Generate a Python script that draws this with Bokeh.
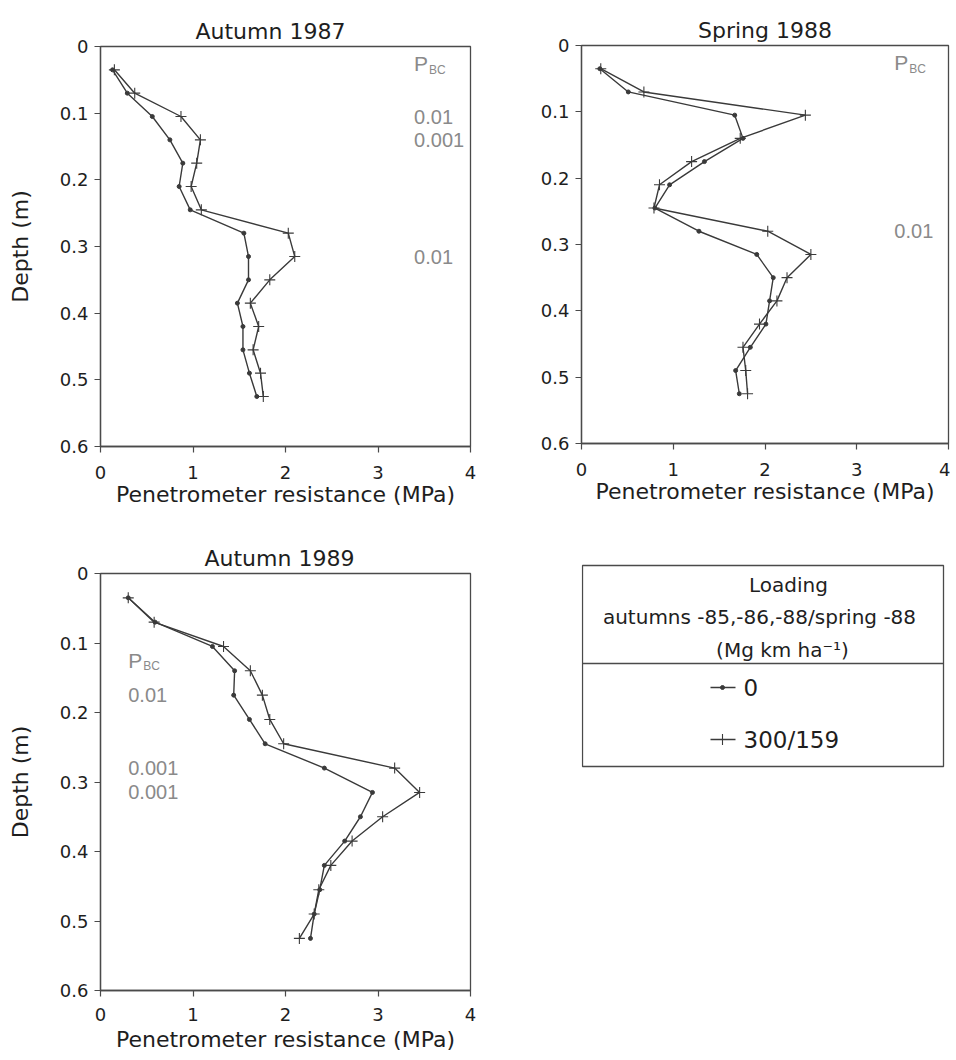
from bokeh.plotting import figure
from bokeh.layouts import column, row
from bokeh.models import Range1d, FixedTicker, ColumnDataSource
from bokeh.embed import file_html
from bokeh.resources import INLINE
from bokeh.core.properties import value

# ---------------- data ----------------
DEPTH = [0.035, 0.07, 0.105, 0.14, 0.175, 0.21, 0.245, 0.28, 0.315,
         0.35, 0.385, 0.42, 0.455, 0.49, 0.525]

A87_LOAD0 = [0.13, 0.29, 0.56, 0.75, 0.89, 0.85, 0.97, 1.55, 1.60, 1.60,
             1.48, 1.54, 1.54, 1.61, 1.69]
A87_LOAD300 = [0.15, 0.37, 0.87, 1.08, 1.04, 0.98, 1.09, 2.03, 2.10, 1.83,
               1.62, 1.71, 1.65, 1.73, 1.76]

S88_LOAD0 = [0.20, 0.51, 1.67, 1.76, 1.34, 0.96, 0.80, 1.28, 1.91, 2.09,
             2.05, 2.01, 1.84, 1.68, 1.72]
S88_LOAD300 = [0.21, 0.68, 2.44, 1.73, 1.20, 0.85, 0.79, 2.03, 2.50, 2.24,
               2.13, 1.94, 1.76, 1.79, 1.81]

A89_LOAD0 = [0.30, 0.59, 1.21, 1.45, 1.44, 1.61, 1.78, 2.42, 2.94, 2.81,
             2.64, 2.42, 2.37, 2.31, 2.27]
A89_LOAD300 = [0.30, 0.58, 1.33, 1.62, 1.75, 1.83, 1.98, 3.18, 3.45, 3.05,
               2.72, 2.49, 2.36, 2.31, 2.15]

TITLES = ["Autumn 1987", "Spring 1988", "Autumn 1989"]
X_TICKS = [0, 1, 2, 3, 4]
X_TICK_LABELS = ["0", "1", "2", "3", "4"]
Y_TICKS = [0, 0.1, 0.2, 0.3, 0.4, 0.5, 0.6]
Y_TICK_LABELS = ["0", "0.1", "0.2", "0.3", "0.4", "0.5", "0.6"]
X_LABEL = "Penetrometer resistance (MPa)"
Y_LABEL = "Depth (m)"

SERIES_LABELS = ["0", "300/159"]
LEGEND_HEAD = ["Loading", "autumns -85,-86,-88/spring -88", "(Mg km ha\u207b\u00b9)"]

# significance annotations (P_BC) per panel
PBC_X = [3.39, 3.41, 0.30]
PBC_DEPTH = [0.026, 0.026, 0.125]
A87_SIG_DEPTH = [0.105, 0.14, 0.315]
A87_SIG_P = ["0.01", "0.001", "0.01"]
S88_SIG_DEPTH = [0.28]
S88_SIG_P = ["0.01"]
A89_SIG_DEPTH = [0.175, 0.28, 0.315]
A89_SIG_P = ["0.01", "0.001", "0.001"]

# ---------------- style ----------------
LINE = "#3a3a3a"
FRAME = "#4a4a4a"
TXT = "#1e1e1e"
GREY = "#8a8a8a"
FONT = "DejaVu Sans"
AFONT = "Liberation Sans"


def panel(title, load0, load300, pbc_x, pbc_depth, sig_depth, sig_p,
          frame_w, frame_h, bl, br, bt, bb, ylabel=True, title_left=None,
          tick_standoff=13, xlabel_standoff=0):
    p = figure(output_backend="svg", toolbar_location=None,
               frame_width=frame_w, frame_height=frame_h,
               min_border_left=bl, min_border_right=br,
               min_border_top=bt, min_border_bottom=bb,
               x_range=Range1d(0, 4), y_range=Range1d(0.6, 0),
               title=title)
    if title_left is None:
        p.title.align = "center"
    else:
        p.title.align = "left"
        p.title.offset = title_left
    p.title.text_font = FONT
    p.title.text_font_size = "22px"
    p.title.text_font_style = "normal"
    p.title.text_color = TXT
    p.title.standoff = 6

    p.grid.visible = False
    p.outline_line_color = FRAME
    p.outline_line_width = 1.3

    for ax in (p.xaxis[0], p.yaxis[0]):
        ax.axis_line_color = FRAME
        ax.axis_line_width = 1.3
        ax.major_tick_line_color = FRAME
        ax.major_tick_line_width = 1.2
        ax.major_tick_in = 0
        ax.major_tick_out = 6
        ax.minor_tick_line_color = None
        ax.major_label_text_font = FONT
        ax.major_label_text_font_size = "18px"
        ax.major_label_text_color = TXT
        ax.axis_label_text_font = FONT
        ax.axis_label_text_font_size = "22px"
        ax.axis_label_text_font_style = "normal"
        ax.axis_label_text_color = TXT

    p.xaxis.ticker = FixedTicker(ticks=X_TICKS)
    p.xaxis.major_label_overrides = {t: l for t, l in zip(X_TICKS, X_TICK_LABELS)}
    p.xaxis.major_label_standoff = tick_standoff
    p.xaxis.axis_label = X_LABEL
    p.xaxis.axis_label_standoff = xlabel_standoff

    p.yaxis.ticker = FixedTicker(ticks=Y_TICKS)
    p.yaxis.major_label_overrides = {t: l for t, l in zip(Y_TICKS, Y_TICK_LABELS)}
    p.yaxis.major_label_standoff = 6
    if ylabel:
        p.yaxis.axis_label = Y_LABEL
        p.yaxis.axis_label_standoff = 24

    src = ColumnDataSource(dict(d=DEPTH, a=load0, b=load300))
    p.line("a", "d", source=src, line_color=LINE, line_width=1.4)
    p.scatter("a", "d", source=src, marker="circle", size=4,
              fill_color=LINE, line_color=LINE)
    p.line("b", "d", source=src, line_color=LINE, line_width=1.4)
    p.scatter("b", "d", source=src, marker="cross", size=11,
              line_color=LINE, line_width=1.1)

    # P_BC header
    p.text(x=[pbc_x], y=[pbc_depth], text=["P"], text_font=value(AFONT),
           text_font_size=value("21px"), text_color=GREY,
           text_baseline="middle", text_align="left")
    p.text(x=[pbc_x], y=[pbc_depth], text=["BC"], text_font=value(AFONT),
           text_font_size=value("12px"), text_color=GREY,
           text_baseline="middle", text_align="left", x_offset=15, y_offset=6)
    sig = ColumnDataSource(dict(x=[pbc_x] * len(sig_depth), y=sig_depth, t=sig_p))
    p.text("x", "y", text="t", source=sig, text_font=value(AFONT),
           text_font_size=value("20px"), text_color=GREY,
           text_baseline="middle", text_align="left")
    return p


p1 = panel(TITLES[0], A87_LOAD0, A87_LOAD300, PBC_X[0], PBC_DEPTH[0],
           A87_SIG_DEPTH, A87_SIG_P, 370, 400, 100, 26, 46, 89,
           title_left=95)
p2 = panel(TITLES[1], S88_LOAD0, S88_LOAD300, PBC_X[1], PBC_DEPTH[1],
           S88_SIG_DEPTH, S88_SIG_P, 367, 398, 85, 2, 45, 92, ylabel=False)
p3 = panel(TITLES[2], A89_LOAD0, A89_LOAD300, PBC_X[2], PBC_DEPTH[2],
           A89_SIG_DEPTH, A89_SIG_P, 370, 417, 100, 26, 38, 64,
           title_left=104, tick_standoff=11, xlabel_standoff=3)

# ---------------- legend box (page-pixel coordinates) ----------------
LX0, LX1 = 581, 948      # legend canvas frame, page x
LY0, LH = 535, 240       # legend canvas frame top (page y) and height
lg = figure(output_backend="svg", toolbar_location=None, title=None,
            x_axis_location=None, y_axis_location=None,
            frame_width=LX1 - LX0, frame_height=LH,
            min_border_left=85, min_border_right=2,
            min_border_top=0, min_border_bottom=0,
            x_range=Range1d(LX0, LX1), y_range=Range1d(LY0 + LH, LY0))
lg.grid.visible = False
lg.outline_line_color = None

BOX_L, BOX_R, BOX_T, BOX_B, DIV_Y = 582, 943, 565, 766, 663
lg.quad(left=[BOX_L], right=[BOX_R], top=[BOX_T], bottom=[BOX_B],
        fill_color=None, line_color=FRAME, line_width=1.3)
lg.segment(x0=[BOX_L], x1=[BOX_R], y0=[DIV_Y], y1=[DIV_Y],
           line_color=FRAME, line_width=1.3)
head = ColumnDataSource(dict(x=[788, 759, 782], y=[584, 616, 649], t=LEGEND_HEAD))
lg.text("x", "y", text="t", source=head, text_font=value(FONT),
        text_font_size=value("20px"), text_color=TXT,
        text_baseline="middle", text_align="center")

ENTRY_Y = [687, 739]
lg.segment(x0=[710, 710], x1=[735, 735], y0=ENTRY_Y, y1=ENTRY_Y,
           line_color=LINE, line_width=1.4)
lg.scatter(x=[722], y=[ENTRY_Y[0]], marker="circle", size=4,
           fill_color=LINE, line_color=LINE)
lg.scatter(x=[722], y=[ENTRY_Y[1]], marker="cross", size=11,
           line_color=LINE, line_width=1.1)
ent = ColumnDataSource(dict(x=[743, 743], y=ENTRY_Y, t=SERIES_LABELS))
lg.text("x", "y", text="t", source=ent, text_font=value(FONT),
        text_font_size=value("23px"), text_color=TXT,
        text_baseline="middle", text_align="left")

layout = row(column(p1, p3, spacing=0), column(p2, lg, spacing=0), spacing=0)

open("out.html", "w").write(file_html(layout, INLINE))
